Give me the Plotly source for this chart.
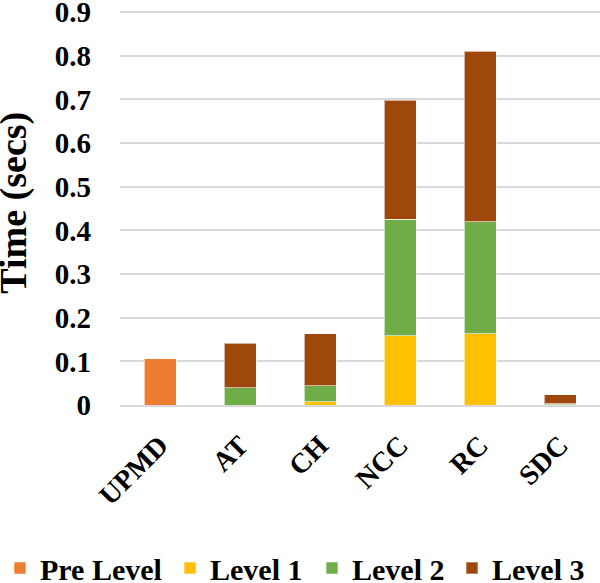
"""Stacked bar chart of time per level for each method."""

import plotly.graph_objects as go

categories = ["UPMD", "AT", "CH", "NCC", "RC", "SDC"]
pre_level = [0.106, 0, 0, 0, 0, 0]
level_1 = [0, 0, 0.008, 0.159, 0.163, 0.001]
level_2 = [0, 0.040, 0.036, 0.267, 0.257, 0.002]
level_3 = [0, 0.102, 0.119, 0.272, 0.390, 0.020]
y_ticks = [0, 0.1, 0.2, 0.3, 0.4, 0.5, 0.6, 0.7, 0.8, 0.9]

FONT = "Liberation Serif"
WIDTH, HEIGHT = 600, 583

# name, values, colour, legend id, legend left edge (px)
series = [
    ("Pre Level", pre_level, "#ED7D31", "legend", -1),
    ("Level 1", level_1, "#FFC000", "legend2", 170),
    ("Level 2", level_2, "#70AD47", "legend3", 312),
    ("Level 3", level_3, "#9E480E", "legend4", 452),
]

fig = go.Figure()
for name, values, color, legend_id, _ in series:
    fig.add_trace(
        go.Bar(
            name=name,
            x=categories,
            y=values,
            legend=legend_id,
            marker=dict(color=color, line=dict(color="rgba(255,255,255,0.6)", width=1)),
        )
    )

# one legend per series so the entries can sit where the original has them
legends = {}
for _, _, _, legend_id, left in series:
    legends[legend_id] = dict(
        orientation="h",
        xref="container",
        x=left / WIDTH,
        xanchor="left",
        yref="container",
        y=1 - 568 / HEIGHT,
        yanchor="middle",
        font=dict(family=FONT, size=30, weight="bold"),
        bgcolor="rgba(0,0,0,0)",
    )

fig.update_layout(
    barmode="stack",
    bargap=0.6,
    width=WIDTH,
    height=HEIGHT,
    margin=dict(l=120, r=0, t=10, b=178),
    plot_bgcolor="white",
    paper_bgcolor="white",
    showlegend=True,
    font=dict(family=FONT, color="black", size=28, weight="bold"),
    **legends,
)

# axis title as an annotation so it can sit right at the left edge
fig.add_annotation(
    text="Time (secs)",
    textangle=-90,
    xref="paper",
    yref="paper",
    x=-130 / 480,
    xanchor="left",
    y=0.511,
    yanchor="middle",
    showarrow=False,
    font=dict(family=FONT, size=38, weight="bold"),
)

fig.update_yaxes(
    range=[0, 0.905],
    tickvals=y_ticks,
    ticktext=[str(t) if t else "0" for t in y_ticks],
    showgrid=True,
    gridcolor="#D9D9D9",
    gridwidth=1.5,
    zeroline=False,
    showline=False,
    ticks="",
    ticklabelstandoff=28,
    ticklabeloverflow="allow",
    automargin=False,
    tickfont=dict(family=FONT, size=29, weight="bold"),
)

fig.update_xaxes(
    tickangle=-45,
    showline=True,
    linecolor="#D9D9D9",
    linewidth=1.5,
    ticks="",
    ticklabelstandoff=11,
    automargin=False,
    tickfont=dict(family=FONT, size=28, weight="bold"),
)

# drop the default 8px body margin so the figure fills the window exactly
fig.write_html(
    "out.html",
    config={"displayModeBar": False},
    post_script="document.body.style.margin = '0';",
)
